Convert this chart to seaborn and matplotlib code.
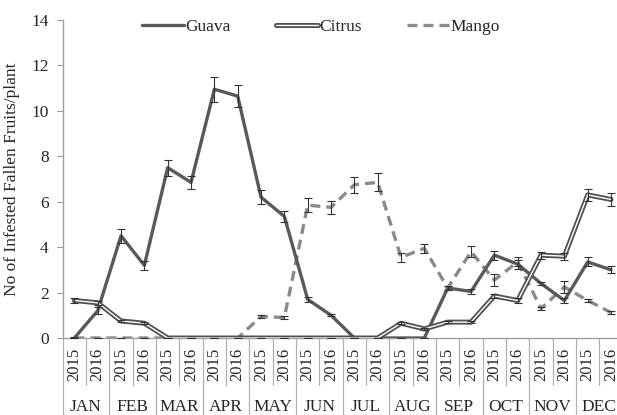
import matplotlib
matplotlib.use("Agg")
import matplotlib.pyplot as plt
import matplotlib.patheffects as pe
import numpy as np
import pandas as pd
import seaborn as sns

# ===== data =====
MONTHS = ["JAN", "FEB", "MAR", "APR", "MAY", "JUN",
          "JUL", "AUG", "SEP", "OCT", "NOV", "DEC"]
YEARS = ["2015", "2016"]

guava = [0.0, 1.2, 4.5, 3.2, 7.5, 6.85, 10.95, 10.65, 6.2, 5.35, 1.7, 1.0,
         0.0, 0.0, 0.0, 0.0, 2.2, 2.05, 3.65, 3.25, 2.4, 1.65, 3.35, 3.0]
guava_err = [0.05, 0.15, 0.3, 0.2, 0.35, 0.3, 0.55, 0.5, 0.3, 0.25, 0.1, 0.05,
             0.0, 0.0, 0.0, 0.0, 0.1, 0.1, 0.2, 0.2, 0.05, 0.1, 0.2, 0.15]

citrus = [1.65, 1.55, 0.75, 0.65, 0.0, 0.0, 0.0, 0.0, 0.0, 0.0, 0.0, 0.0,
          0.0, 0.0, 0.65, 0.4, 0.7, 0.7, 1.85, 1.65, 3.65, 3.6, 6.3, 6.1]
citrus_err = [0.1, 0.1, 0.05, 0.05, 0.0, 0.0, 0.0, 0.0, 0.0, 0.0, 0.0, 0.0,
              0.0, 0.0, 0.05, 0.05, 0.05, 0.05, 0.1, 0.1, 0.15, 0.15, 0.25, 0.3]

mango = [0.0, 0.0, 0.0, 0.0, 0.0, 0.0, 0.0, 0.0, 0.95, 0.9, 5.85, 5.75,
         6.75, 6.85, 3.55, 3.95, 2.2, 3.8, 2.55, 3.35, 1.3, 2.25, 1.65, 1.12]
mango_err = [0.0, 0.0, 0.0, 0.0, 0.0, 0.0, 0.0, 0.0, 0.05, 0.05, 0.3, 0.3,
             0.35, 0.4, 0.2, 0.2, 0.1, 0.25, 0.25, 0.2, 0.05, 0.25, 0.05, 0.05]

x = np.arange(len(MONTHS) * len(YEARS))
df = pd.DataFrame({"x": x, "Guava": guava, "Citrus": citrus, "Mango": mango})

# ===== style =====
sns.set_theme(style="white")
plt.rcParams["font.family"] = ["Liberation Serif", "DejaVu Serif"]
plt.rcParams["font.size"] = 12

W, H = 617, 415
fig = plt.figure(figsize=(W / 100, H / 100), dpi=100)
left, right, top, bottom = 62.7, 622.7, 20, 338
ax = fig.add_axes([left / W, 1 - bottom / H, (right - left) / W, (bottom - top) / H])

# series
sns.lineplot(data=df, x="x", y="Guava", ax=ax, color="#595959", lw=2.4,
             label="Guava", zorder=3)
sns.lineplot(data=df, x="x", y="Citrus", ax=ax, color="white", lw=1.0,
             label="Citrus", zorder=4,
             path_effects=[pe.Stroke(linewidth=3.6, foreground="#505050"), pe.Normal()])
sns.lineplot(data=df, x="x", y="Mango", ax=ax, color="#8a8a8a", lw=2.4,
             label="Mango", zorder=2, dashes=False)
ax.lines[-1].set_dashes((3, 1.8))

for col, err in [("Guava", guava_err), ("Citrus", citrus_err), ("Mango", mango_err)]:
    ax.errorbar(df["x"], df[col], yerr=err, fmt="none", ecolor="#333333",
                elinewidth=0.8, capsize=2.6, capthick=0.8, zorder=5)

ax.set_xlim(-0.5, len(x) - 0.5)
ax.set_ylim(0, 14)
ax.set_yticks(range(0, 15, 2))
ax.tick_params(axis="y", length=4, width=0.8, color="#999999", labelsize=12.5,
               left=True, pad=6)
ax.set_ylabel("No of Infested Fallen Fruits/plant", fontsize=12.5, labelpad=8)
ax.set_xlabel("")

# year labels on x axis
ax.set_xticks(x)
ax.set_xticklabels(YEARS * len(MONTHS), rotation=90, fontsize=12)
ax.tick_params(axis="x", length=0, pad=7)

for s in ["top", "right"]:
    ax.spines[s].set_visible(False)
for s in ["left", "bottom"]:
    ax.spines[s].set_color("#a0a0a0")
    ax.spines[s].set_linewidth(1.0)

# category separators and month labels
trans = ax.get_xaxis_transform()
ah = bottom - top
short_y = -(385 - bottom) / ah
long_y = -(H + 5 - bottom) / ah
for i in range(len(x) + 1):
    yb = long_y if i % 2 == 0 else short_y
    ax.plot([i - 0.5, i - 0.5], [0, yb], transform=trans, color="#b0b0b0",
            lw=0.9, clip_on=False)
month_y = -(407 - bottom) / ah
for m, name in enumerate(MONTHS):
    ax.text(2 * m + 0.5, month_y, name, transform=trans, ha="center",
            va="center", fontsize=12.5)

# legend
handles, labels = ax.get_legend_handles_labels()
ax.legend(handles, labels, loc="center", bbox_to_anchor=(0.461, 0.978), ncol=3,
          frameon=False, fontsize=12.5, handlelength=2.4, handletextpad=0.1,
          columnspacing=2.6)

fig.savefig("out.png", dpi=100)
